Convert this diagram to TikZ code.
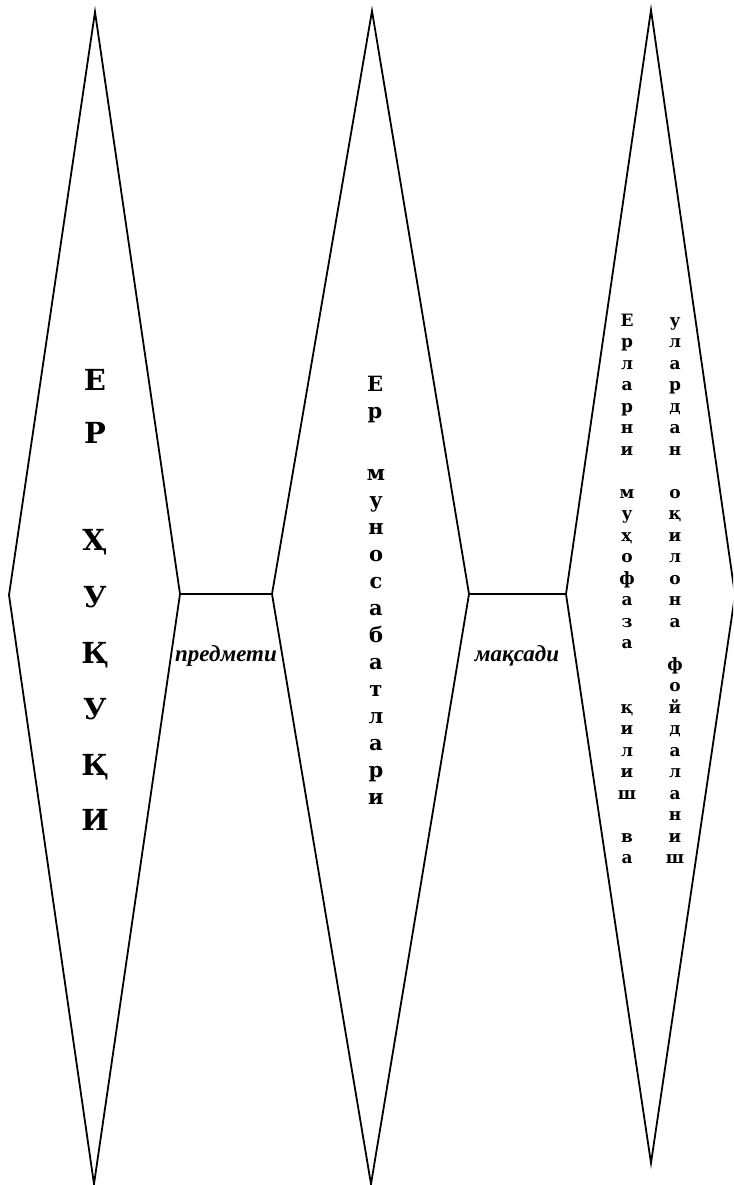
\documentclass[tikz,border=0pt]{standalone}
\usepackage{fontspec}
\setmainfont{Liberation Serif}
\newfontfamily\heavy{DejaVu Serif}
\usetikzlibrary{positioning}

\tikzset{
  rhomb/.style={line width=1.8pt, line join=miter},
  link/.style={line width=1.3pt},
  bigletter/.style={font=\heavy\fontsize{29}{29}\selectfont\bfseries, anchor=base},
  midletter/.style={font=\heavy\fontsize{21}{21}\selectfont\bfseries, anchor=base},
  smallletter/.style={font=\heavy\fontsize{17}{17}\selectfont\bfseries, anchor=base},
  tag/.style={font=\fontsize{23}{23}\selectfont\bfseries\itshape, inner sep=0pt},
}

\begin{document}
\begin{tikzpicture}[x=1pt, y=-1pt]
  \useasboundingbox (0,0) rectangle (733,1185);
  \clip (0,0) rectangle (733,1185);

  % vertices of the three rhombs
  \coordinate (lt) at (95,12);   \coordinate (lb) at (94,1184);
  \coordinate (ll) at (9,595);   \coordinate (lr) at (180,594);
  \coordinate (mt) at (372,11);  \coordinate (mb) at (371,1184);
  \coordinate (ml) at (272,594); \coordinate (mr) at (469,594);
  \coordinate (rt) at (651,10);  \coordinate (rb) at (651,1163);
  \coordinate (rl) at (566,594); \coordinate (rr) at (735,595);

  \draw[rhomb] (lt) -- (lr) -- (lb) -- (ll) -- cycle;
  \draw[rhomb] (mt) -- (mr) -- (mb) -- (ml) -- cycle;
  \draw[rhomb] (rt) -- (rr) -- (rb) -- (rl) -- cycle;

  % links
  \draw[link] (lr) -- (ml);
  \draw[link] (mr) -- (rl);
  \node[tag] (subj) at (226,656) {предмети};
  \node[tag] (goal) at (517,656) {мақсади};

  % left rhomb
  \foreach \c/\yy [count=\i] in {Е/390, Р/443, Ҳ/550, У/607, Қ/663, У/719, Қ/775, И/830}
    \node[bigletter] (a\i) at (95,\yy) {\c};

  % middle rhomb
  \node[midletter] (b0) at (375,391) {Е};
  \node[midletter] (b1) at (375,418) {р};
  \foreach \c [count=\i from 2] in {м,у,н,о,с,а,б,а,т,л,а,р,и}
    \node[midletter] (b\i) at (376,{480+27*(\i-2)}) {\c};

  % right rhomb, two columns
  \foreach \c/\r in {Е/0,р/1,л/2,а/3,р/4,н/5,и/6,м/8,у/9,ҳ/10,о/11,ф/12,а/13,з/14,а/15,қ/18,и/19,л/20,и/21,ш/22,в/24,а/25}
    \node[smallletter] (c\r) at (627,{326+21.5*\r}) {\c};
  \foreach \c/\r in {у/0,л/1,а/2,р/3,д/4,а/5,н/6,о/8,қ/9,и/10,л/11,о/12,н/13,а/14,ф/16,о/17,й/18,д/19,а/20,л/21,а/22,н/23,и/24,ш/25}
    \node[smallletter] (d\r) at (675,{326+21.5*\r}) {\c};
\end{tikzpicture}
\end{document}
